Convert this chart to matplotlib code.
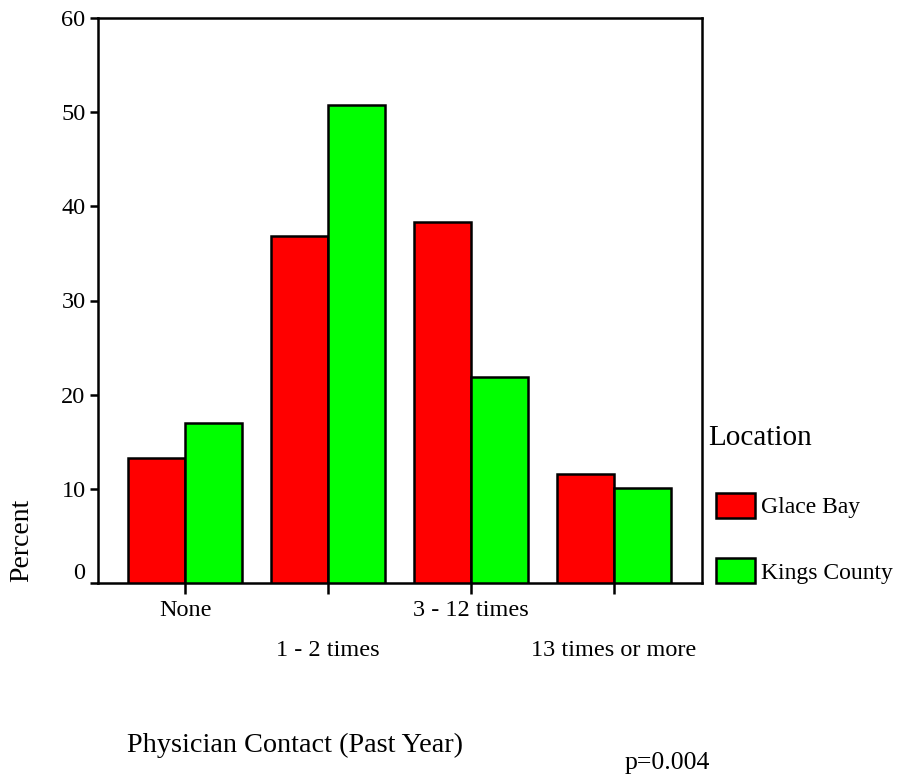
import matplotlib
matplotlib.use("Agg")
import matplotlib.pyplot as plt
import matplotlib.transforms as mtransforms
import numpy as np

categories = ["None", "1 - 2 times", "3 - 12 times", "13 times or more"]
series_names = ["Glace Bay", "Kings County"]
glace_bay = [13.3, 36.8, 38.3, 11.6]
kings_county = [17.0, 50.8, 21.9, 10.1]
y_ticks = [0, 10, 20, 30, 40, 50, 60]

plt.rcParams['font.family'] = ['Liberation Serif', 'DejaVu Serif']

W, H = 898, 776
fig = plt.figure(figsize=(W / 100, H / 100), dpi=100)
ax = fig.add_axes([98 / W, 1 - 583 / H, (702 - 98) / W, (583 - 18) / H])

x = np.arange(len(categories))
bw = 0.4
red = "#ff0000"
green = "#00ff00"
ax.bar(x - bw / 2, glace_bay, bw, color=red, edgecolor="black", linewidth=1.8,
       label=series_names[0], zorder=3)
ax.bar(x + bw / 2, kings_county, bw, color=green, edgecolor="black", linewidth=1.8,
       label=series_names[1], zorder=3)

ax.set_xlim(-0.61, 3.615)
ax.set_ylim(0, 60)
ax.set_yticks(y_ticks)
ax.set_yticklabels([str(v) for v in y_ticks], fontsize=17.5)
ax.set_xticks(x)
ax.set_xticklabels(categories, fontsize=17.5)

for s in ax.spines.values():
    s.set_linewidth(1.8)
ax.tick_params(axis="y", direction="out", length=6, width=1.8, pad=3)
ax.tick_params(axis="x", direction="out", length=8, width=1.8)

# alternate label rows
for i, t in enumerate(ax.xaxis.get_major_ticks()):
    t.set_pad(4 if i % 2 == 0 else 33)

# raise the "0" label
ylabels = ax.get_yticklabels()
ylabels[0].set_transform(ylabels[0].get_transform() +
                         mtransforms.ScaledTranslation(0, 12 / 100, fig.dpi_scale_trans))

fig.text(22 / W, 1 - 540 / H, "Percent", rotation=90, fontsize=20,
         ha="center", va="center")
fig.text(127 / W, 1 - 745 / H, "Physician Contact (Past Year)", fontsize=20.3,
         ha="left", va="center")
fig.text(710 / W, 1 - 763 / H, "p=0.004", fontsize=18.5, ha="right", va="center")

# legend title
fig.text(708 / W, 1 - 438 / H, "Location", fontsize=21, ha="left", va="center")

leg = ax.legend(loc="upper left", bbox_to_anchor=(711 / W, 1 - 488 / H),
                bbox_transform=fig.transFigure, frameon=False,
                fontsize=17,
                handlelength=1.65, handleheight=1.25, handletextpad=0.25,
                labelspacing=1.7, borderaxespad=0, borderpad=0.2)
for p in leg.get_patches():
    p.set_linewidth(1.8)

fig.savefig("out.png", dpi=100)
